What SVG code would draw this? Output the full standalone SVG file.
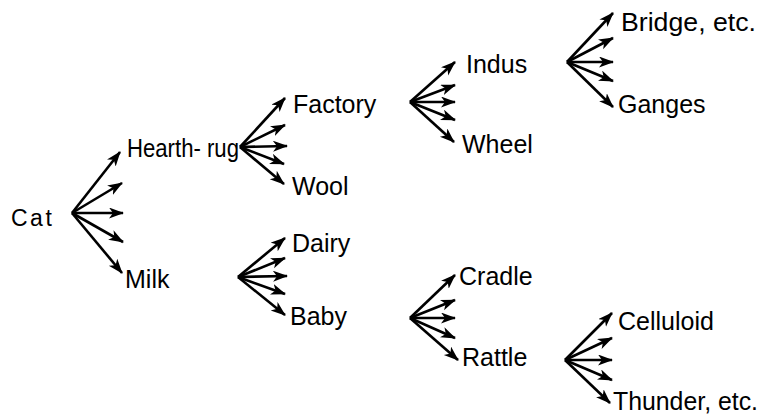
<svg xmlns="http://www.w3.org/2000/svg" width="762" height="415" viewBox="0 0 762 415">
<style>
text{font-family:"Liberation Sans",Arial,sans-serif;font-size:25px;fill:#000}
line{stroke:#000;stroke-width:2.6;marker-end:url(#ah)}
</style>
<defs>
<marker id="ah" markerUnits="userSpaceOnUse" markerWidth="16" markerHeight="12" refX="14" refY="5.5" orient="auto">
<path d="M0,0 L15,5.5 L0,11 L4,5.5 z" fill="#000"/>
</marker>
</defs>
<rect width="762" height="415" fill="#fff"/>
<g id="connectors">
<line x1="72" y1="213" x2="120" y2="152"/>
<line x1="72" y1="213" x2="122" y2="183"/>
<line x1="72" y1="213" x2="123" y2="213"/>
<line x1="72" y1="213" x2="123" y2="242"/>
<line x1="72" y1="213" x2="122" y2="273"/>
<line x1="240" y1="147" x2="285" y2="98"/>
<line x1="240" y1="147" x2="285" y2="125"/>
<line x1="240" y1="147" x2="287" y2="146"/>
<line x1="240" y1="147" x2="284" y2="164"/>
<line x1="240" y1="147" x2="284" y2="184"/>
<line x1="238" y1="277" x2="285" y2="238"/>
<line x1="238" y1="277" x2="285" y2="258"/>
<line x1="238" y1="277" x2="287" y2="276"/>
<line x1="238" y1="277" x2="285" y2="294"/>
<line x1="238" y1="277" x2="285" y2="315"/>
<line x1="410" y1="102" x2="455" y2="62"/>
<line x1="410" y1="102" x2="455" y2="85"/>
<line x1="410" y1="102" x2="455" y2="102"/>
<line x1="410" y1="102" x2="455" y2="120"/>
<line x1="410" y1="102" x2="454" y2="142"/>
<line x1="567" y1="62" x2="613" y2="13"/>
<line x1="567" y1="62" x2="613" y2="38"/>
<line x1="567" y1="62" x2="613" y2="62"/>
<line x1="567" y1="62" x2="613" y2="81"/>
<line x1="567" y1="62" x2="613" y2="107"/>
<line x1="410" y1="318" x2="455" y2="275"/>
<line x1="410" y1="318" x2="455" y2="300"/>
<line x1="410" y1="318" x2="455" y2="318"/>
<line x1="410" y1="318" x2="455" y2="338"/>
<line x1="410" y1="318" x2="458" y2="360"/>
<line x1="565" y1="360" x2="612" y2="313"/>
<line x1="565" y1="360" x2="612" y2="338"/>
<line x1="565" y1="360" x2="612" y2="360"/>
<line x1="565" y1="360" x2="612" y2="380"/>
<line x1="565" y1="360" x2="610" y2="403"/>
</g>
<g id="n-cat"><text x="11" y="226" style="font-size:23px" letter-spacing="2.5">Cat</text></g>
<g id="n-hearthrug"><text x="127" y="157" textLength="112" lengthAdjust="spacingAndGlyphs">Hearth- rug</text></g>
<g id="n-milk"><text x="125" y="288">Milk</text></g>
<g id="n-factory"><text x="293" y="113">Factory</text></g>
<g id="n-wool"><text x="292" y="195">Wool</text></g>
<g id="n-dairy"><text x="292" y="252">Dairy</text></g>
<g id="n-baby"><text x="290" y="325">Baby</text></g>
<g id="n-indus"><text x="466" y="73">Indus</text></g>
<g id="n-wheel"><text x="462" y="153">Wheel</text></g>
<g id="n-bridge"><text x="621" y="31" textLength="135" lengthAdjust="spacingAndGlyphs">Bridge, etc.</text></g>
<g id="n-ganges"><text x="618" y="113">Ganges</text></g>
<g id="n-cradle"><text x="459" y="285">Cradle</text></g>
<g id="n-rattle"><text x="462" y="366">Rattle</text></g>
<g id="n-celluloid"><text x="618" y="330">Celluloid</text></g>
<g id="n-thunder"><text x="613" y="410" textLength="145" lengthAdjust="spacingAndGlyphs">Thunder, etc.</text></g>
</svg>
